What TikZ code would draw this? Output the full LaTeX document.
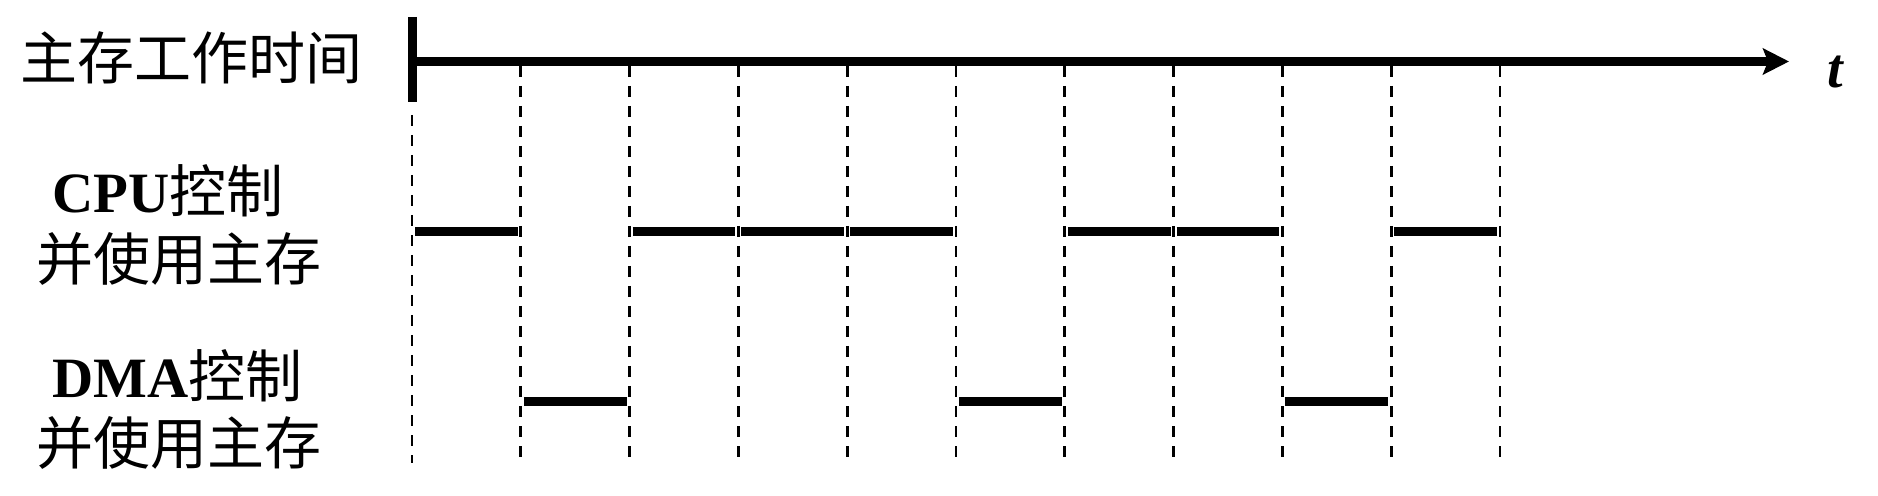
\documentclass[tikz,border=0pt]{standalone}
\usepackage{fontspec}
\setmainfont{Liberation Serif}
\newfontfamily\cjk{Noto Sans CJK SC}
\usetikzlibrary{arrows.meta}
\begin{document}
\begin{tikzpicture}[x=0.5pt,y=-0.5pt,
  axisline/.style={line width=4.25pt,-{Stealth[length=13pt,width=13pt,inset=2.5pt]}},
  starttick/.style={line width=4.5pt},
  gridline/.style={line width=1.4pt,dash pattern=on 5.5pt off 4.5pt},
  busy/.style={line width=4.25pt},
  lbl/.style={inner sep=0pt,anchor=west,font=\fontsize{28.5}{31}\selectfont\cjk},
  tlbl/.style={inner sep=0pt,font=\fontsize{28}{30}\selectfont\bfseries\itshape}]
\useasboundingbox (0,0) rectangle (1878,496);
% axis
\coordinate (ax0) at (412,61.5);
\coordinate (axend) at (1789,61.5);
\coordinate (tk0) at (412,17);
\coordinate (tk1) at (412,102);
\draw[starttick] (tk0) -- (tk1);
\draw[axisline] (ax0) -- (axend);
\node[tlbl] (tlab) at (1835,72) {t};
% grid lines
\foreach \i in {0,...,10}{
  \pgfmathsetmacro{\xx}{412+108.8*\i}
  \coordinate (g\i b) at (\xx,463);
  \ifnum\i=0
    \coordinate (g\i t) at (\xx,115);
  \else
    \coordinate (g\i t) at (\xx,66);
  \fi
  \draw[gridline] (g\i t) -- (g\i b);
}
% busy segments
\foreach \i in {0,2,3,4,6,7,9}{
  \pgfmathtruncatemacro{\j}{\i+1}
  \draw[busy] ([xshift=1.5pt]g\i t |- 0,231.5) -- ([xshift=-1.5pt]g\j t |- 0,231.5);
}
\foreach \i in {1,5,8}{
  \pgfmathtruncatemacro{\j}{\i+1}
  \draw[busy] ([xshift=1.5pt]g\i t |- 0,401.5) -- ([xshift=-1.5pt]g\j t |- 0,401.5);
}
% labels
\node[lbl] (title) at (20,58) {主存工作时间};
\node[lbl] (cpu1) at (52,191) {{\rmfamily\bfseries CPU}控制};
\node[lbl] (cpu2) at (36,259) {并使用主存};
\node[lbl] (dma1) at (52,376) {{\rmfamily\bfseries DMA}控制};
\node[lbl] (dma2) at (36,443) {并使用主存};
\end{tikzpicture}
\end{document}
